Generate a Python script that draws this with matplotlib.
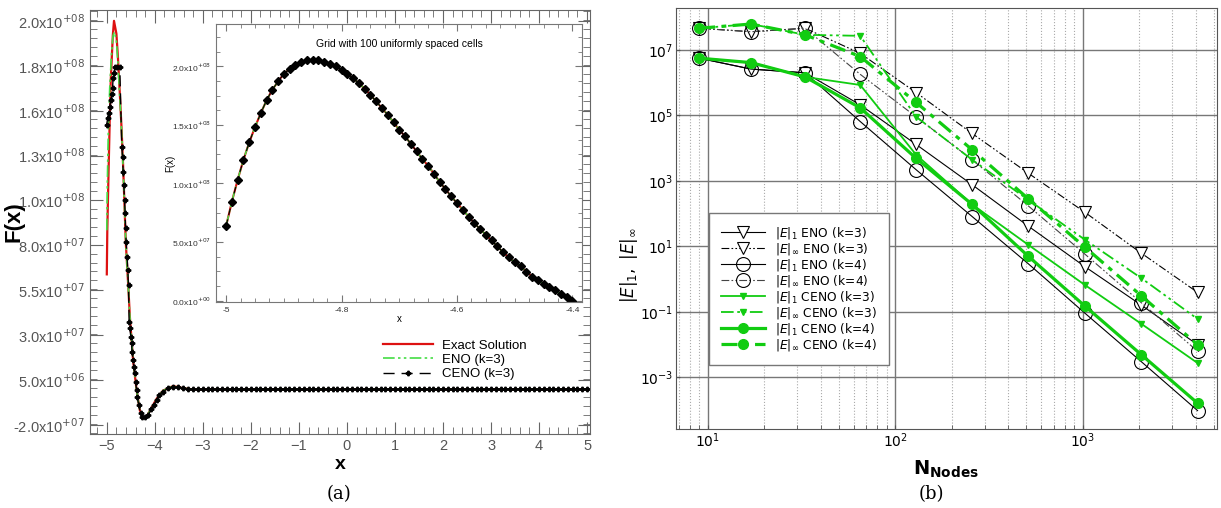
import numpy as np
import matplotlib
matplotlib.use("Agg")
import matplotlib.pyplot as plt
from matplotlib.ticker import FixedLocator, MultipleLocator, LogLocator, NullFormatter

# ---------------- panel (a): F(x) ----------------
# exact solution and ENO (values in 1e7)
exact_x = [-5.0, -4.99, -4.97, -4.94, -4.917, -4.875, -4.85, -4.80, -4.77, -4.73, -4.694, -4.66,
           -4.604, -4.556, -4.52, -4.452, -4.38, -4.3125, -4.244, -4.173, -4.07, -3.965, -3.83,
           -3.62, -3.41, -3.2, 5.0]
exact_f = [6.2, 8.5, 11.0, 14.5, 16.8, 19.2, 20.0, 19.3, 18.1, 16.1, 14.2, 12.1,
           7.9, 5.7, 3.9, 1.5, -0.1, -1.2, -1.6, -1.55, -1.07, -0.58, -0.13,
           0.12, 0.0, -0.06, -0.06]
eno_x = [-5.0, -4.99, -4.97, -4.94, -4.9, -4.87, -4.84, -4.80, -4.77, -4.73, -4.694, -4.66,
         -4.604, -4.556, -4.52, -4.452, -4.38, -4.3125, -4.244, -4.173, -4.07, -3.965, -3.83,
         -3.62, -3.41, -3.2, 5.0]
eno_f = [8.6, 11.0, 13.8, 16.3, 18.3, 19.2, 19.4, 18.9, 17.8, 15.9, 14.1, 12.0,
         7.9, 5.7, 3.9, 1.5, -0.1, -1.2, -1.6, -1.55, -1.07, -0.58, -0.13,
         0.12, 0.0, -0.06, -0.06]
ceno_x = [-5.0, -4.985, -4.958, -4.938, -4.917, -4.89, -4.88, -4.87, -4.85, -4.83, -4.785, -4.73,
          -4.6875, -4.673, -4.66, -4.646, -4.631, -4.619, -4.61, -4.598, -4.577, -4.5625, -4.548,
          -4.535, -4.52, -4.5, -4.485, -4.473, -4.452, -4.4375, -4.423, -4.402, -4.38, -4.369,
          -4.333, -4.298, -4.265, -4.21, -4.14, -4.07, -4.02, -3.965, -3.91, -3.83, -3.72, -3.62,
          -3.51, -3.41]
ceno_f = [14.33, 14.69, 15.0, 15.33, 15.69, 16.0, 16.33, 16.87, 17.18, 17.5, 17.5, 17.5,
          13.15, 12.6, 11.79, 11.06, 10.25, 9.54, 8.72, 7.98, 7.16, 6.44, 5.62,
          3.62, 3.28, 2.81, 2.46, 1.99, 1.54, 1.17, 0.83, 0.36, -0.095, -0.46,
          -0.91, -1.36, -1.55, -1.55, -1.46, -1.13, -0.91, -0.64, -0.37, -0.19, 0.0, 0.085,
          0.05, 0.0]
# flat tail, one marker per 0.1 cell
tail_x = np.round(np.arange(-3.3, 5.01, 0.1), 2)
tail_level = -0.06

ytick_labels_a = ['-2.0x10$^{+07}$', '5.0x10$^{+06}$', '3.0x10$^{+07}$', '5.5x10$^{+07}$',
                  '8.0x10$^{+07}$', '1.0x10$^{+08}$', '1.3x10$^{+08}$', '1.6x10$^{+08}$',
                  '1.8x10$^{+08}$', '2.0x10$^{+08}$']

# inset: grid with 100 uniformly spaced cells (values in 1e7)
inset_x = np.round(np.linspace(-5.0, -4.4, 61), 3)
inset_f = [6.38, 8.46, 10.32, 12.03, 13.51, 14.82, 16.01, 17.10, 18.01, 18.72,
           19.38, 19.78, 20.12, 20.34, 20.52, 20.57, 20.57, 20.40, 20.23, 20.0,
           19.72, 19.38, 18.98, 18.58, 18.09, 17.58, 17.01, 16.44, 15.87, 15.22,
           14.59, 14.02, 13.39, 12.74, 12.08, 11.51, 10.83, 10.12, 9.52, 8.89,
           8.32, 7.75, 7.18, 6.61, 6.10, 5.62, 5.13, 4.62, 4.11, 3.68,
           3.25, 2.91, 2.48, 2.05, 1.77, 1.43, 1.14, 0.86, 0.57, 0.29, -0.05]
inset_ytick_labels = ['0.0x10$^{+00}$', '5.0x10$^{+07}$', '1.0x10$^{+08}$',
                      '1.5x10$^{+08}$', '2.0x10$^{+08}$']

# ---------------- panel (b): convergence ----------------
nodes = [9, 17, 33, 65, 129, 257, 513, 1025, 2049, 4097]
e1_eno3 = [5.6e6, 2.6e6, 2.0e6, 2.1e5, 1.3e4, 7.6e2, 41, 2.4, 0.16, 9.8e-3]
einf_eno3 = [4.6e7, 3.6e7, 4.6e7, 7.9e6, 5.0e5, 2.8e4, 1.7e3, 1.1e2, 6.2, 0.39]
e1_eno4 = [5.6e6, 2.6e6, 2.0e6, 6.5e4, 2.2e3, 81, 2.9, 0.091, 3.0e-3, 9.5e-5]
einf_eno4 = [4.6e7, 3.6e7, 4.6e7, 1.8e6, 9.1e4, 4.4e3, 1.7e2, 5.8, 0.19, 6.2e-3]
e1_ceno3 = [5.6e6, 4.1e6, 1.5e6, 8.5e5, 6.3e3, 1.9e2, 11, 0.66, 0.043, 2.7e-3]
einf_ceno3 = [4.6e7, 6.2e7, 2.9e7, 2.7e7, 9.1e4, 4.4e3, 2.6e2, 16, 1.07, 0.060]
e1_ceno4 = [5.6e6, 4.1e6, 1.5e6, 1.7e5, 4.9e3, 1.9e2, 4.9, 0.15, 4.9e-3, 1.6e-4]
einf_ceno4 = [4.6e7, 6.2e7, 2.9e7, 6.3e6, 2.5e5, 8.9e3, 2.8e2, 9.5, 0.31, 9.8e-3]
yticks_b = [1e-3, 1e-1, 1e1, 1e3, 1e5, 1e7]

GREEN = '#11cc11'
DDOT = (0, (7, 2, 1.5, 2, 1.5, 2))
SANS = 'Liberation Sans'

fig = plt.figure(figsize=(12.21, 5.08), dpi=100)

# ---- main axes (a)
ax = fig.add_axes([0.0737, 0.1457, 0.4095, 0.8346])
ax.plot(exact_x, np.array(exact_f) * 1e7, color='#dd1111', lw=1.6, label='Exact Solution')
ax.plot(eno_x, np.array(eno_f) * 1e7, color='#44dd44', lw=1.2, ls=DDOT, label='ENO (k=3)')
cx = list(ceno_x) + list(tail_x)
cf = list(ceno_f) + [tail_level] * len(tail_x)
ax.plot(cx, np.array(cf) * 1e7, color='black', lw=1.0, ls=(0, (8, 5)), marker='P',
        ms=3.2, mec='black', mfc='black', label='CENO (k=3)')
ax.set_xlim(-5.35, 5.06)
ax.set_ylim(-2.49e7, 2.059e8)
ystep = 2.2e8 / 9
ax.yaxis.set_major_locator(FixedLocator([-2e7 + k * ystep for k in range(10)]))
ax.set_yticklabels(ytick_labels_a)
ax.yaxis.set_minor_locator(MultipleLocator(ystep / 5))
ax.xaxis.set_major_locator(MultipleLocator(1))
ax.xaxis.set_minor_locator(MultipleLocator(0.2))
ax.tick_params(which='both', direction='in', top=True, right=True, colors='#666666',
               labelcolor='#555555', labelsize=10.5)
ax.tick_params(which='major', length=9)
ax.tick_params(which='minor', length=5)
for lab in ax.get_xticklabels() + ax.get_yticklabels():
    lab.set_family(SANS)
for s in ax.spines.values():
    s.set_color('#666666')
ax.set_xlabel('x', fontsize=14, fontweight='bold', labelpad=2, family=SANS)
ax.set_ylabel('F(x)', fontsize=16, fontweight='bold', family=SANS)
ax.yaxis.set_label_coords(-0.13, 0.5)
leg_a = ax.legend(loc='upper left', bbox_to_anchor=(0.575, 0.235), frameon=False,
                  handlelength=3.8, handletextpad=0.7, labelspacing=0.15, borderaxespad=0,
                  prop={'family': SANS, 'size': 9.5})

# ---- inset
ins = fig.add_axes([0.1767, 0.4061, 0.3002, 0.546])
ins.plot(inset_x, np.array(inset_f) * 1e7, color='#dd1111', lw=1.5)
ins.plot(inset_x, np.array(inset_f) * 1e7, color='#44dd44', lw=1.1, ls=DDOT)
ins.plot(inset_x, np.array(inset_f) * 1e7, color='black', lw=0.8, ls=(0, (6, 4)),
         marker='D', ms=4)
ins.set_xlim(-5.018, -4.383)
ins.set_ylim(-0.1e7, 2.36e8)
ins.xaxis.set_major_locator(FixedLocator([-5.0, -4.8, -4.6, -4.4]))
ins.set_xticklabels(['-5', '-4.8', '-4.6', '-4.4'])
ins.xaxis.set_minor_locator(MultipleLocator(0.025))
ins.yaxis.set_major_locator(FixedLocator([0, 5e7, 1e8, 1.5e8, 2e8]))
ins.set_yticklabels(inset_ytick_labels)
ins.yaxis.set_minor_locator(MultipleLocator(1.25e7))
ins.tick_params(which='both', direction='in', top=True, right=True, colors='#777777',
                labelcolor='#333333', labelsize=6)
ins.tick_params(which='major', length=5)
ins.tick_params(which='minor', length=3)
for lab in ins.get_xticklabels() + ins.get_yticklabels():
    lab.set_family(SANS)
for s in ins.spines.values():
    s.set_color('#777777')
ins.set_xlabel('x', fontsize=7, labelpad=0, family=SANS)
ins.set_ylabel('F(x)', fontsize=7, family=SANS)
ins.yaxis.set_label_coords(-0.11, 0.5)
ins.text(0.5, 0.93, 'Grid with 100 uniformly spaced cells', transform=ins.transAxes,
         ha='center', va='center', fontsize=7.5, family=SANS)

# ---- panel (b)
bx = fig.add_axes([0.5534, 0.1555, 0.4433, 0.8281])
bx.plot(nodes, e1_eno3, color='black', lw=0.8, marker='v', ms=8, mfc='white', mec='black',
        mew=0.8, label=r'$|E|_1$ ENO (k=3)')
bx.plot(nodes, einf_eno3, color='black', lw=0.8, ls=DDOT, marker='v', ms=8, mfc='white',
        mec='black', mew=0.8, label=r'$|E|_\infty$ ENO (k=3)')
bx.plot(nodes, e1_eno4, color='black', lw=0.8, marker='o', ms=10, mfc='none', mec='black',
        mew=0.8, label=r'$|E|_1$ ENO (k=4)')
bx.plot(nodes, einf_eno4, color='#444444', lw=0.8, ls=DDOT, marker='o', ms=10, mfc='none',
        mec='black', mew=0.8, label=r'$|E|_\infty$ ENO (k=4)')
bx.plot(nodes, e1_ceno3, color=GREEN, lw=1.3, marker='v', ms=5, mfc=GREEN, mec=GREEN,
        label=r'$|E|_1$ CENO (k=3)')
bx.plot(nodes, einf_ceno3, color=GREEN, lw=1.3, ls=DDOT, marker='v', ms=5, mfc=GREEN,
        mec=GREEN, label=r'$|E|_\infty$ CENO (k=3)')
bx.plot(nodes, e1_ceno4, color=GREEN, lw=2.3, marker='o', ms=7, mfc=GREEN, mec=GREEN,
        label=r'$|E|_1$ CENO (k=4)')
bx.plot(nodes, einf_ceno4, color=GREEN, lw=2.3, ls=(0, (5, 2, 1.5, 2)), marker='o', ms=7,
        mfc=GREEN, mec=GREEN, label=r'$|E|_\infty$ CENO (k=4)')
bx.set_xscale('log')
bx.set_yscale('log')
bx.set_xlim(6.74, 5200)
bx.set_ylim(2.6e-5, 1.87e8)
bx.yaxis.set_major_locator(FixedLocator(yticks_b))
bx.yaxis.set_minor_locator(FixedLocator([]))
bx.xaxis.set_major_locator(LogLocator(base=10))
bx.xaxis.set_minor_locator(LogLocator(base=10, subs=np.arange(2, 10)))
bx.xaxis.set_minor_formatter(NullFormatter())
bx.grid(True, which='major', color='#777777', lw=1.0)
bx.grid(True, which='minor', axis='x', color='#aaaaaa', lw=0.8, ls=':')
bx.set_axisbelow(True)
bx.tick_params(which='both', direction='in', length=3, labelsize=10, pad=2, colors='#555555',
               labelcolor='black')
for s in bx.spines.values():
    s.set_color('#555555')
bx.set_xlabel(r'$\mathbf{N}_{\mathbf{Nodes}}$', fontsize=14, labelpad=6)
bx.set_ylabel(r'$|E|_1,\ |E|_\infty$', fontsize=12)
bx.yaxis.set_label_coords(-0.066, 0.39)
leg = bx.legend(loc='upper left', bbox_to_anchor=(0.0615, 0.5134), fontsize=8.8,
                handlelength=3.6, handletextpad=0.8, labelspacing=0.0, borderaxespad=0,
                fancybox=False, edgecolor='#777777', framealpha=1, borderpad=1.0)
leg.get_frame().set_linewidth(1.0)

fig.text(0.2776, 0.027, '(a)', ha='center', va='center', fontsize=13, family='DejaVu Serif')
fig.text(0.7625, 0.027, '(b)', ha='center', va='center', fontsize=13, family='DejaVu Serif')

fig.savefig('out.png', dpi=100)
